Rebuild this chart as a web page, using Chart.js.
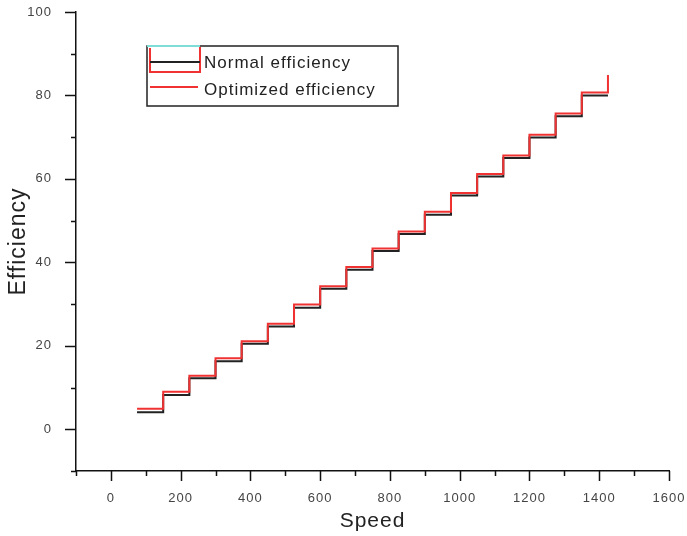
<!DOCTYPE html>
<html>
<head>
<meta charset="utf-8">
<script src="https://cdn.jsdelivr.net/npm/chart.js@4"></script>
<style>
  body { margin: 0; background: #fff; }
  #wrap { width: 687px; height: 536px; position: relative; }
</style>
</head>
<body>
<div id="wrap"><canvas id="myChart"></canvas></div>
<script>
// values
const speed = [75, 150, 225, 300, 375, 450, 525, 600, 675, 750, 825, 900, 975, 1050, 1125, 1200, 1275, 1350, 1425];
const normalEff = [4.1, 8.2, 12.2, 16.3, 20.5, 24.6, 29.1, 33.7, 38.2, 42.7, 46.8, 51.4, 56.0, 60.6, 65.0, 69.9, 75.0, 80.0, 80.0];
const optimizedEff = [4.9, 9.0, 12.8, 17.0, 21.1, 25.3, 29.9, 34.3, 38.9, 43.3, 47.4, 52.1, 56.6, 61.2, 65.6, 70.6, 75.7, 80.7, 84.9];
const seriesNames = ["Normal efficiency", "Optimized efficiency"];

const FONT = "'Liberation Sans', Arial, sans-serif";

function toPoints(xs, ys) {
  return xs.map((x, i) => ({ x: x, y: ys[i] }));
}

const data = {
  datasets: [
    {
      label: seriesNames[0],
      data: toPoints(speed, normalEff),
      borderColor: '#222',
      borderWidth: 2,
      stepped: 'before',
      pointRadius: 0,
      order: 2
    },
    {
      label: seriesNames[1],
      data: toPoints(speed, optimizedEff),
      borderColor: '#f03232',
      borderWidth: 2,
      stepped: 'before',
      pointRadius: 0,
      order: 1
    }
  ]
};

// ticks (major + minor) and the odd Origin-style legend
const axisDecor = {
  id: 'axisDecor',
  beforeDraw(chart) {
    chart.ctx.letterSpacing = '1px';
  },
  afterDraw(chart) {
    const ctx = chart.ctx;
    const xs = chart.scales.x, ys = chart.scales.y;
    const area = chart.chartArea;
    ctx.save();
    ctx.letterSpacing = '0px';
    ctx.strokeStyle = '#111';
    ctx.lineWidth = 1.5;
    ctx.beginPath();
    for (let v = -100; v <= 1600; v += 100) {
      const px = Math.round(xs.getPixelForValue(v)) + 0.5;
      const len = (v % 200 === 0) ? 10 : 5;
      ctx.moveTo(px, area.bottom);
      ctx.lineTo(px, area.bottom + len);
    }
    for (let v = -10; v <= 100; v += 10) {
      const py = Math.round(ys.getPixelForValue(v)) + 0.5;
      const len = (v % 20 === 0) ? 11 : 5;
      ctx.moveTo(area.left, py);
      ctx.lineTo(area.left - len, py);
    }
    ctx.stroke();

    // legend box
    const bx = 147, by = 46, bw = 251, bh = 60;
    ctx.lineWidth = 1.5;
    ctx.strokeStyle = '#222';
    ctx.strokeRect(bx, by, bw, bh);
    ctx.lineWidth = 2;
    ctx.strokeStyle = '#7fdcd6';
    ctx.beginPath();
    ctx.moveTo(bx, by); ctx.lineTo(200, by);
    ctx.stroke();
    ctx.strokeStyle = '#f03232';
    ctx.beginPath();
    ctx.moveTo(150, 48); ctx.lineTo(150, 72); ctx.lineTo(200, 72); ctx.lineTo(200, 47);
    ctx.moveTo(150, 87); ctx.lineTo(198, 87);
    ctx.stroke();
    ctx.strokeStyle = '#222';
    ctx.beginPath();
    ctx.moveTo(150, 62); ctx.lineTo(200, 62);
    ctx.stroke();

    ctx.fillStyle = '#222';
    ctx.font = '17px ' + FONT;
    ctx.letterSpacing = '1px';
    ctx.textBaseline = 'middle';
    ctx.textAlign = 'left';
    ctx.fillText(seriesNames[0], 204, 63);
    ctx.fillText(seriesNames[1], 204, 90);
    ctx.restore();
  }
};

const config = {
  type: 'line',
  data: data,
  options: {
    responsive: true,
    maintainAspectRatio: false,
    animation: false,
    layout: { padding: { top: 12, right: 18, left: 0, bottom: 0 } },
    plugins: {
      legend: { display: false },
      tooltip: { enabled: false }
    },
    scales: {
      x: {
        type: 'linear',
        min: -100,
        max: 1600,
        afterFit(scale) {
          scale.height = 65;
          scale.paddingLeft = 0;
          scale.paddingRight = 0;
        },
        grid: { display: false },
        border: { display: true, color: '#111', width: 1.5 },
        ticks: {
          stepSize: 100,
          autoSkip: false,
          maxRotation: 0,
          padding: 12,
          color: '#444',
          font: { family: FONT, size: 13 },
          callback: v => (v % 200 === 0 && v >= 0) ? v : ''
        },
        title: {
          display: true,
          text: 'Speed',
          color: '#222',
          font: { family: FONT, size: 21 },
          padding: { top: 0, bottom: 2 }
        }
      },
      y: {
        min: -10,
        max: 100,
        afterFit(scale) {
          scale.width = 76;
          scale.paddingTop = 0;
          scale.paddingBottom = 0;
        },
        grid: { display: false },
        border: { display: true, color: '#111', width: 1.5 },
        ticks: {
          stepSize: 10,
          autoSkip: false,
          padding: 16,
          color: '#444',
          font: { family: FONT, size: 13 },
          callback: v => (v % 20 === 0 && v >= 0) ? v : ''
        },
        title: {
          display: true,
          text: 'Efficiency',
          color: '#222',
          font: { family: FONT, size: 23 },
          padding: { top: 5, bottom: 0 }
        }
      }
    }
  },
  plugins: [axisDecor]
};

const myChart = new Chart(document.getElementById('myChart'), config);
</script>
</body>
</html>
